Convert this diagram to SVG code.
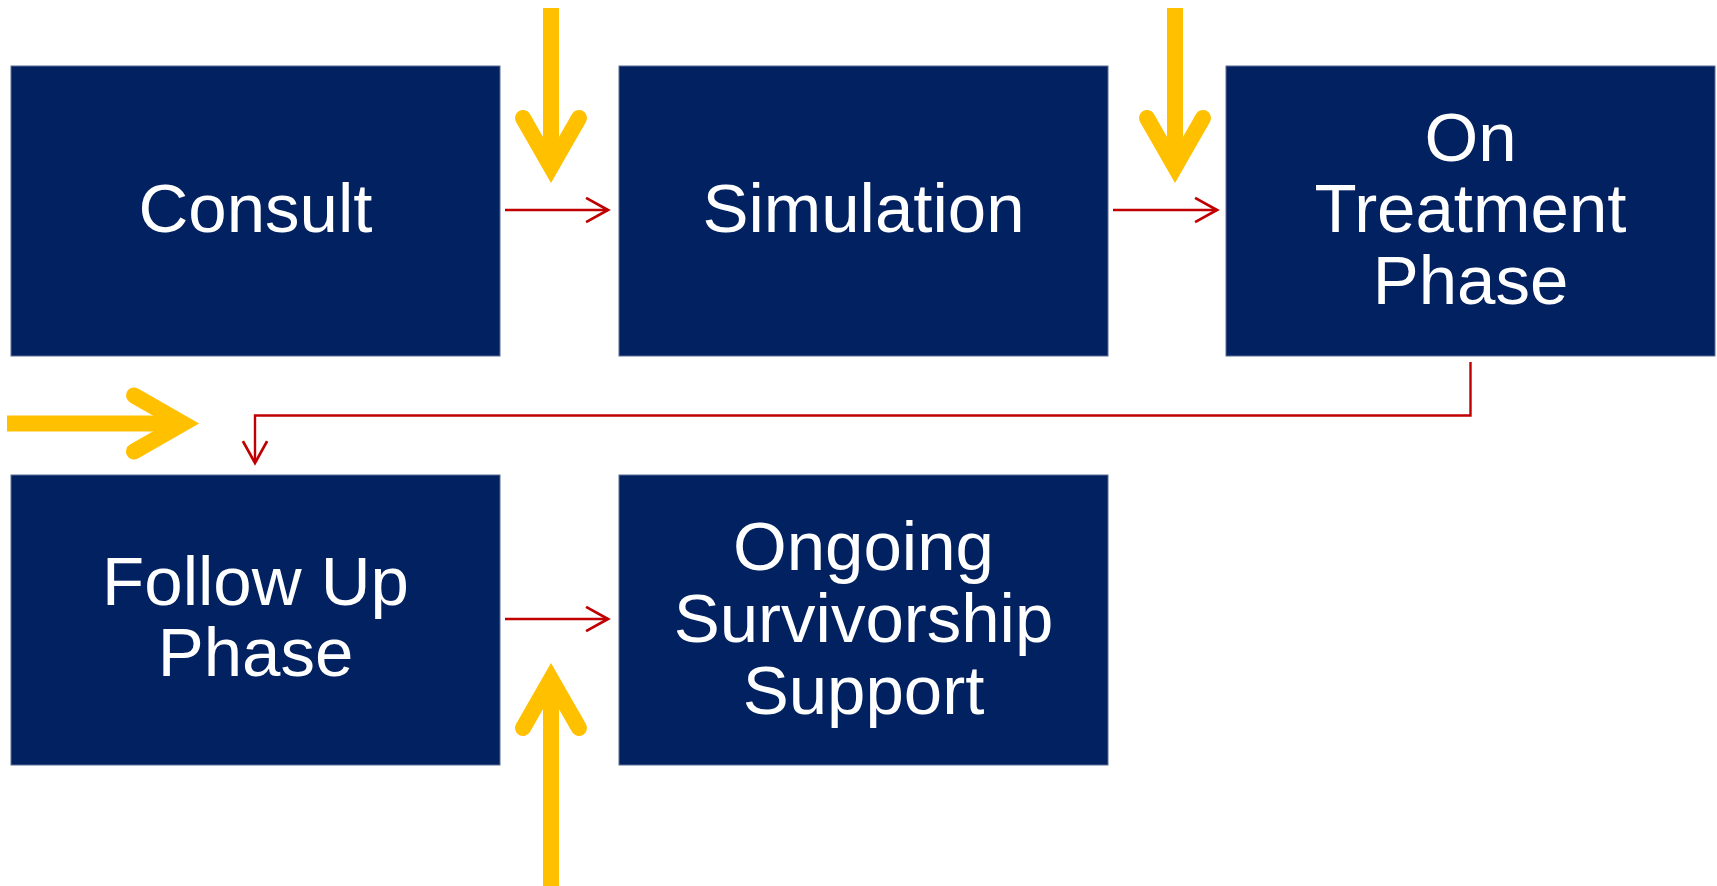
<svg xmlns="http://www.w3.org/2000/svg" width="1717" height="886" viewBox="0 0 1717 886">
  <style>
    .box { fill: #022160; stroke: #5a6d96; stroke-width: 1; }
    .lbl { fill: #ffffff; font-family: "Liberation Sans", Arial, sans-serif; font-size: 69px; text-anchor: middle; }
    .red { fill: none; stroke: #C00000; stroke-width: 2.4; marker-end: url(#redHead); }
    .yshaft { fill: none; stroke: #FFC000; stroke-width: 16; }
    .yhead { fill: none; stroke: #FFC000; stroke-width: 16; stroke-linecap: round; stroke-linejoin: miter; }
  </style>
  <defs>
    <marker id="redHead" markerUnits="userSpaceOnUse" markerWidth="30" markerHeight="30" viewBox="-22 -13 26 26" refX="0" refY="0" orient="auto" overflow="visible">
      <path d="M-19,-10.5 L0,0 L-19,10.5" fill="none" stroke="#C00000" stroke-width="2.4"/>
    </marker>
    <!-- yellow open arrowhead pointing down, tip (outer) at 0,0 -->
    <g id="yArrowHead">
      <polyline class="yhead" points="-28,-65 0,-16 28,-65"/>
    </g>
  </defs>

  <g id="node-consult">
    <rect class="box" x="11" y="66" width="489" height="290"/>
    <text class="lbl" x="255.5" y="232">Consult</text>
  </g>
  <g id="node-simulation">
    <rect class="box" x="619" y="66" width="489" height="290"/>
    <text class="lbl" x="863.5" y="232">Simulation</text>
  </g>
  <g id="node-on-treatment">
    <rect class="box" x="1226" y="66" width="489" height="290"/>
    <text class="lbl" x="1470.5" y="161">On</text>
    <text class="lbl" x="1470.5" y="232">Treatment</text>
    <text class="lbl" x="1470.5" y="304">Phase</text>
  </g>
  <g id="node-follow-up">
    <rect class="box" x="11" y="475" width="489" height="290"/>
    <text class="lbl" x="255.5" y="605">Follow Up</text>
    <text class="lbl" x="255.5" y="676">Phase</text>
  </g>
  <g id="node-ongoing">
    <rect class="box" x="619" y="475" width="489" height="290"/>
    <text class="lbl" x="863.5" y="570">Ongoing</text>
    <text class="lbl" x="863.5" y="642">Survivorship</text>
    <text class="lbl" x="863.5" y="714">Support</text>
  </g>

  <g id="connectors">
    <line class="red" x1="505" y1="210" x2="608" y2="210"/>
    <line class="red" x1="1113" y1="210" x2="1217" y2="210"/>
    <polyline class="red" points="1470.5,362 1470.5,415.5 255,415.5 255,463"/>
    <line class="red" x1="505" y1="619" x2="608" y2="619"/>
  </g>

  <g id="yellow-arrows">
    <g id="yarrow-1">
      <line class="yshaft" x1="551" y1="8" x2="551" y2="168"/>
      <use href="#yArrowHead" transform="translate(551,183)"/>
    </g>
    <g id="yarrow-2">
      <line class="yshaft" x1="1175" y1="8" x2="1175" y2="168"/>
      <use href="#yArrowHead" transform="translate(1175,183)"/>
    </g>
    <g id="yarrow-3">
      <line class="yshaft" x1="7" y1="423.5" x2="184" y2="423.5"/>
      <use href="#yArrowHead" transform="translate(199,423.5) rotate(-90)"/>
    </g>
    <g id="yarrow-4">
      <line class="yshaft" x1="551" y1="886" x2="551" y2="678"/>
      <use href="#yArrowHead" transform="translate(551,663) rotate(180)"/>
    </g>
  </g>
</svg>
